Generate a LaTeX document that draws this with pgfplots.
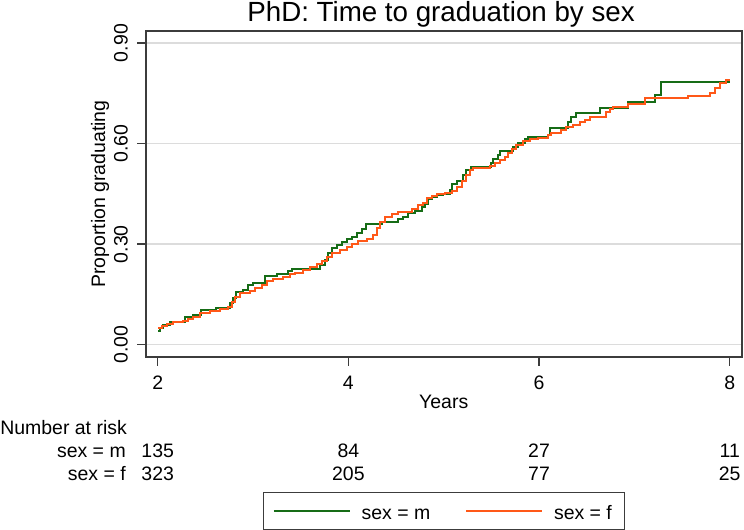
\documentclass[border=0pt]{standalone}
\usepackage{fontspec}
\setmainfont{Liberation Sans}
\usepackage{pgfplots}
\pgfplotsset{compat=1.18}

\definecolor{kmgreen}{RGB}{22,108,22}
\definecolor{kmorange}{RGB}{255,88,24}
\definecolor{axisgray}{RGB}{60,60,60}
\definecolor{gridgray}{RGB}{220,220,220}

% Kaplan-Meier failure estimates (x = years, y = proportion)
\pgfplotstableread{
x y
2.006 0.041
2.024 0.049
2.059 0.059
2.130 0.068
2.286 0.084
2.373 0.088
2.454 0.104
2.608 0.110
2.758 0.124
2.786 0.139
2.820 0.156
2.897 0.163
2.950 0.178
3.002 0.185
3.125 0.205
3.247 0.211
3.369 0.220
3.404 0.226
3.701 0.238
3.754 0.253
3.788 0.273
3.824 0.288
3.876 0.298
3.929 0.305
3.981 0.315
4.034 0.322
4.086 0.333
4.138 0.344
4.183 0.359
4.348 0.365
4.522 0.374
4.574 0.382
4.627 0.392
4.697 0.400
4.767 0.410
4.802 0.420
4.837 0.434
4.872 0.440
4.925 0.447
4.994 0.450
5.064 0.462
5.082 0.480
5.134 0.488
5.203 0.507
5.232 0.522
5.281 0.531
5.501 0.541
5.518 0.553
5.570 0.566
5.588 0.578
5.727 0.591
5.780 0.603
5.850 0.614
5.885 0.619
6.094 0.626
6.112 0.646
6.304 0.663
6.330 0.679
6.392 0.691
6.644 0.707
6.933 0.725
7.216 0.745
7.283 0.785
8.000 0.785
}\male

\pgfplotstableread{
x y
2.006 0.051
2.042 0.056
2.094 0.061
2.164 0.068
2.268 0.071
2.321 0.077
2.373 0.084
2.443 0.094
2.548 0.101
2.653 0.106
2.740 0.113
2.776 0.128
2.810 0.143
2.863 0.153
2.967 0.160
3.020 0.168
3.090 0.178
3.143 0.191
3.212 0.195
3.317 0.203
3.387 0.211
3.439 0.215
3.526 0.223
3.597 0.231
3.667 0.241
3.719 0.251
3.771 0.263
3.824 0.275
3.911 0.283
3.981 0.291
4.034 0.300
4.103 0.310
4.191 0.316
4.260 0.327
4.302 0.347
4.330 0.367
4.383 0.382
4.453 0.390
4.522 0.397
4.662 0.404
4.732 0.417
4.784 0.424
4.820 0.437
4.872 0.444
4.925 0.449
5.012 0.454
5.082 0.460
5.134 0.472
5.187 0.489
5.232 0.507
5.274 0.522
5.308 0.528
5.483 0.533
5.536 0.543
5.588 0.551
5.640 0.561
5.675 0.571
5.711 0.583
5.763 0.596
5.833 0.609
5.903 0.613
5.990 0.618
6.094 0.626
6.130 0.633
6.235 0.641
6.287 0.649
6.357 0.656
6.427 0.664
6.479 0.671
6.532 0.679
6.706 0.695
6.741 0.703
6.776 0.710
6.933 0.718
7.108 0.736
7.562 0.742
7.790 0.750
7.842 0.765
7.894 0.780
7.964 0.790
8.000 0.790
}\female

\begin{document}
\begin{tikzpicture}[font=\fontsize{14.6pt}{17pt}\selectfont]
\useasboundingbox (-109.3pt,-129.75pt) rectangle (448.7pt,267.75pt);
\begin{axis}[
    at={(0,0)}, anchor=south west,
    scale only axis, width=447pt, height=244.5pt,
    xmin=1.874, xmax=8.126, ymin=-0.0367, ymax=0.936,
    xtick={2,4,6,8}, ytick={0,0.3,0.6,0.9},
    /pgf/number format/assume math mode=true,
    yticklabel style={rotate=90, anchor=south, inner sep=0pt,
      /pgf/number format/.cd, fixed, fixed zerofill, precision=2},
    xticklabel style={anchor=north, inner sep=0pt},
    xticklabel shift=7.5pt, yticklabel shift=6.8pt,
    tick align=outside, xtick pos=left, ytick pos=left,
    major tick length=6.5pt,
    tick style={axisgray, line width=1pt},
    axis line style={axisgray, line width=1.2pt},
    ymajorgrids,
    major grid style={gridgray, line width=1.2pt},
    title={PhD: Time to graduation by sex},
    every axis title shift=0pt,
    title style={at={(axis description cs:0.4955,1.0276)}, anchor=base,
      inner sep=0pt, font=\fontsize{20.8pt}{24pt}\selectfont},
    xlabel={Years},
    xlabel style={at={(axis description cs:0.5,-0.1575)}, anchor=base, inner sep=0pt},
    ylabel={Proportion graduating},
    ylabel style={at={(axis description cs:-0.0682,0.5)}, anchor=base, inner sep=0pt},
    legend columns=2,
    legend image code/.code={\draw[#1] (0pt,0pt) -- (56.8pt,0pt);},
    legend style={at={(axis description cs:0.5,-0.415)}, anchor=north,
      draw=axisgray, line width=0.8pt, inner xsep=7.25pt, inner ysep=2.5pt,
      nodes={inner sep=2pt, text height=15.75pt, text depth=2.8pt},
      /tikz/every odd column/.append style={column sep=6.25pt},
      /tikz/every even column/.append style={column sep=24.25pt}},
  ]
  \addplot[kmgreen, line width=1.5pt, const plot mark left] table {\male};
  \addplot[kmorange, line width=1.5pt, const plot mark left] table {\female};
  \legend{sex = m, sex = f}
\end{axis}

% number at risk table below the axis
\node[anchor=base west, inner sep=0pt] at (-109.3pt,-58pt) {Number at risk};
\node[anchor=base east, inner sep=0pt] at (-14.8pt,-75.5pt) {sex = m};
\node[anchor=base east, inner sep=0pt] at (-14.8pt,-92.8pt) {sex = f};
\foreach \xp/\m/\f in {9.0/135/323, 152.0/84/205, 295.0/27/77, 438.0/11/25} {
  \node[anchor=base, inner sep=0pt] at (\xp pt,-75.5pt) {\m};
  \node[anchor=base, inner sep=0pt] at (\xp pt,-92.8pt) {\f};
}
\end{tikzpicture}
\end{document}
